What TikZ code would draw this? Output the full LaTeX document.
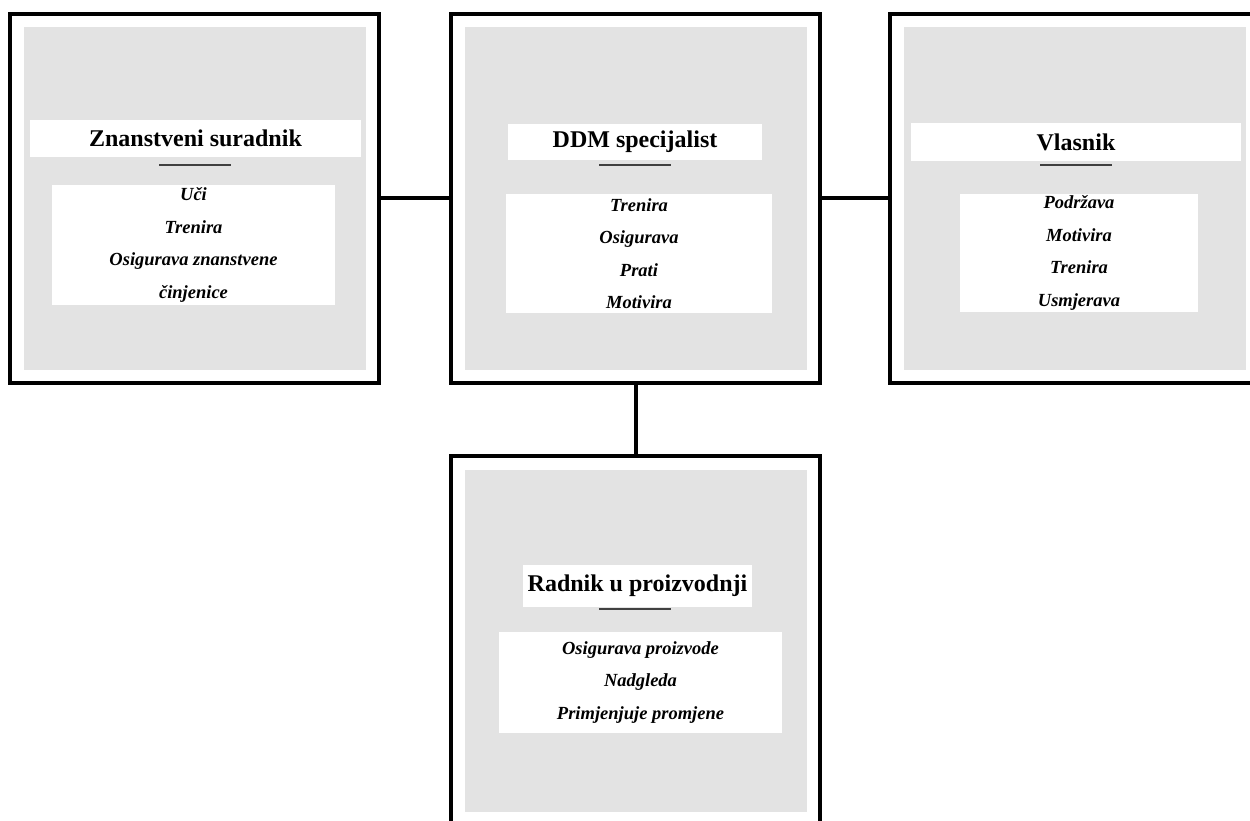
\documentclass[tikz,border=0pt]{standalone}
\usepackage{fontspec}
\setmainfont{Liberation Serif}
\definecolor{boxgray}{RGB}{227,227,227}

\begin{document}
\begin{tikzpicture}[x=1pt,y=-1pt,
    frame/.style={draw,line width=4pt,minimum width=369pt,minimum height=369pt,inner sep=0pt},
    panel/.style={fill=boxgray,minimum size=342pt,inner sep=0pt},
    band/.style={fill=white,minimum height=37pt,inner sep=0pt,font=\fontsize{24}{28}\selectfont\bfseries},
    itemlist/.style={fill=white,inner sep=0pt,align=center,font=\fontsize{18.5}{32.5}\selectfont\bfseries\itshape},
    uline/.style={draw=black!75,line width=1.5pt},
    link/.style={line width=4pt}]
%      \draw[style=help lines] (0,0) grid (1250,821);
      \useasboundingbox (0,0) rectangle (1250,821);
      \clip (0,0) rectangle (1250,821);
      % Znanstveni suradnik
      \node[frame] (zs) at (194.5,198.5) {};
      \node[panel] at (zs) {};
      \node[band,minimum width=331pt] (zs-t) at (195.5,138.5) {Znanstveni suradnik};
      \draw[uline] (159,165) -- (231,165);
      \node[itemlist,minimum width=283pt,minimum height=120pt] (zs-l) at (193.5,245)
        {Uči\\Trenira\\Osigurava znanstvene\\činjenice};
      % DDM specijalist
      \node[frame] (ddm) at (635.5,198.5) {};
      \node[panel] at (ddm) {};
      \node[band,minimum width=254pt,minimum height=36pt] (ddm-t) at (635,142) {DDM specijalist};
      \draw[uline] (599,165) -- (671,165);
      \node[itemlist,minimum width=266pt,minimum height=119pt] (ddm-l) at (639,253.5)
        {Trenira\\Osigurava\\Prati\\Motivira};
      % Vlasnik
      \node[frame] (vl) at (1074.5,198.5) {};
      \node[panel] at (vl) {};
      \node[band,minimum width=330pt,minimum height=38pt] (vl-t) at (1076,142) {Vlasnik};
      \draw[uline] (1040,165) -- (1112,165);
      \node[itemlist,minimum width=238pt,minimum height=118pt] (vl-l) at (1079,253)
        {Podržava\\Motivira\\Trenira\\Usmjerava};
      % Radnik u proizvodnji
      \node[frame] (rp) at (635.5,640.5) {};
      \node[panel] at (rp) {};
      \node[band,minimum width=229pt,minimum height=42pt] (rp-t) at (637.5,586) {Radnik u proizvodnji};
      \draw[uline] (599,609) -- (671,609);
      \node[itemlist,minimum width=283pt,minimum height=101pt] (rp-l) at (640.5,682.5)
        {Osigurava proizvode\\Nadgleda\\Primjenjuje promjene};
      % links
      \draw[link] (zs) -- (ddm);
      \draw[link] (ddm) -- (vl);
      \draw[link] (ddm) -- (rp);
    \end{tikzpicture}
\end{document}
